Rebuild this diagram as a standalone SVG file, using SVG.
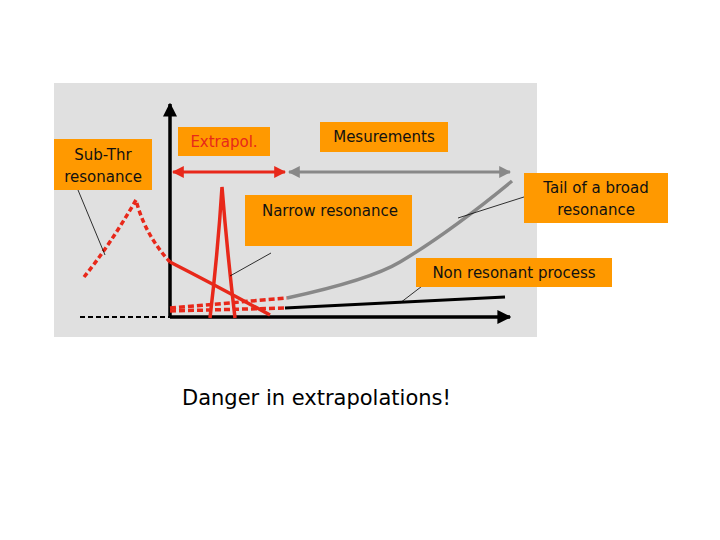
<svg xmlns="http://www.w3.org/2000/svg" width="720" height="540" viewBox="0 0 720 540">
<style>
.box{fill:#ff9900}
.t{font-family:"DejaVu Sans",sans-serif;font-size:15px;fill:#111;text-anchor:middle}
.leader{stroke:#000;stroke-width:0.8;fill:none}
</style>
<defs>
<marker id="ab" viewBox="0 0 10 10" refX="9" refY="5" markerWidth="4" markerHeight="4" orient="auto-start-reverse"><path d="M0,0L10,5L0,10z" fill="#000"/></marker>
<marker id="ar" viewBox="0 0 10 10" refX="9" refY="5" markerWidth="4" markerHeight="4" orient="auto-start-reverse"><path d="M0,0L10,5L0,10z" fill="#e8281a"/></marker>
<marker id="ag" viewBox="0 0 10 10" refX="9" refY="5" markerWidth="4" markerHeight="4" orient="auto-start-reverse"><path d="M0,0L10,5L0,10z" fill="#888"/></marker>
</defs>
<rect width="720" height="540" fill="#fff"/>
<rect x="54" y="83" width="483" height="254" fill="#e0e0e0"/>
<g id="connectors">
<line x1="80" y1="317" x2="170" y2="317" stroke="#000" stroke-width="2" stroke-dasharray="5,3"/>
<line x1="170" y1="317" x2="170" y2="104" stroke="#000" stroke-width="3.5" marker-end="url(#ab)"/>
<line x1="170" y1="317" x2="510" y2="317" stroke="#000" stroke-width="3.5" marker-end="url(#ab)"/>
<line x1="173" y1="172" x2="285" y2="172" stroke="#e8281a" stroke-width="3" marker-start="url(#ar)" marker-end="url(#ar)"/>
<line x1="289" y1="172" x2="510" y2="172" stroke="#888" stroke-width="3" marker-start="url(#ag)" marker-end="url(#ag)"/>
<path d="M84,277 Q110,245 136,200 Q145,235 170,262" stroke="#e8281a" stroke-width="3.5" fill="none" stroke-dasharray="5,3"/>
<path d="M170,262 Q215,285 270,315" stroke="#e8281a" stroke-width="3.5" fill="none"/>
<path d="M210,318 Q218,250 222,187 Q227,250 235,318" stroke="#e8281a" stroke-width="3.5" fill="none"/>
<path d="M170,308 L287,298" stroke="#e8281a" stroke-width="3.5" fill="none" stroke-dasharray="6,3"/>
<path d="M170,311 L285,308" stroke="#e8281a" stroke-width="3.5" fill="none" stroke-dasharray="6,3"/>
<path d="M287,298 Q370,280 400,262 Q450,232 512,181" stroke="#888" stroke-width="3.5" fill="none"/>
<path d="M285,308 L505,297" stroke="#000" stroke-width="3" fill="none"/>
<line class="leader" x1="78" y1="190" x2="105" y2="255"/>
<line class="leader" x1="271" y1="253" x2="230" y2="276"/>
<line class="leader" x1="527" y1="196" x2="458" y2="218"/>
<line class="leader" x1="430" y1="280" x2="400" y2="303"/>
</g>
<g id="subthr"><rect class="box" x="54" y="139" width="98" height="51"/><text class="t" x="103" y="160">Sub-Thr</text><text class="t" x="103" y="182">resonance</text></g>
<g id="extrapol"><rect class="box" x="178" y="127" width="92" height="29"/><text class="t" x="224" y="147" fill="#e8281a" style="fill:#e8281a">Extrapol.</text></g>
<g id="mesurements"><rect class="box" x="320" y="122" width="128" height="30"/><text class="t" x="384" y="142">Mesurements</text></g>
<g id="narrow"><rect class="box" x="245" y="195" width="167" height="51"/><text class="t" x="330" y="216">Narrow resonance</text></g>
<g id="tail"><rect class="box" x="524" y="173" width="144" height="50"/><text class="t" x="596" y="193">Tail of a broad</text><text class="t" x="596" y="215">resonance</text></g>
<g id="nonres"><rect class="box" x="416" y="258" width="196" height="29"/><text class="t" x="514" y="278">Non resonant process</text></g>
<text x="182" y="405" style="font-family:'DejaVu Sans',sans-serif;font-size:21px;fill:#000">Danger in extrapolations!</text>
</svg>
